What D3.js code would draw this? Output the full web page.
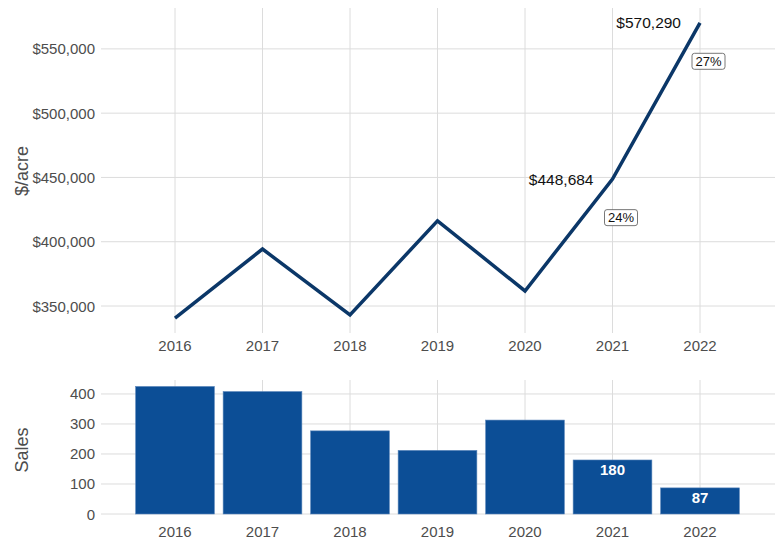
<!DOCTYPE html>
<html>
<head>
<meta charset="utf-8">
<script src="https://cdn.jsdelivr.net/npm/d3@7"></script>
<style>
  body { margin: 0; background: #fff; }
  svg { display: block; font-family: "Liberation Sans", Arial, sans-serif; }
  .grid line { stroke: #dcdcdc; stroke-width: 1; }
  .tick-label { fill: #4d4d4d; font-size: 15px; }
</style>
</head>
<body>
<svg id="chart" width="775" height="542"></svg>
<script>
var years = [2016, 2017, 2018, 2019, 2020, 2021, 2022];
var pricePerAcre = [340500, 394300, 343000, 416300, 361700, 448684, 570290];
var sales = [425, 408, 277, 212, 313, 180, 87];
var priceTicks = [350000, 400000, 450000, 500000, 550000];
var salesTicks = [0, 100, 200, 300, 400];
var labelledYears = [2021, 2022];
var barLabelYears = [2021, 2022];

var plotLeft = 101, plotRight = 775;

var svg = d3.select("#chart");
var fmtMoney = d3.format("$,.0f");

var xScale = d3.scaleLinear()
  .domain([2016, 2022])
  .range([175, 700]);

/* Top panel: price per acre */
var topPanel = { y0: 8, y1: 333 };
var yPrice = d3.scaleLinear()
  .domain([329000, 581800])
  .range([topPanel.y1, topPanel.y0]);

var gTop = svg.append("g");
var gridTop = gTop.append("g").attr("class", "grid");
gridTop.selectAll(".h").data(priceTicks).enter().append("line")
  .attr("x1", plotLeft).attr("x2", plotRight)
  .attr("y1", d => yPrice(d)).attr("y2", d => yPrice(d));
gridTop.selectAll(".v").data(years).enter().append("line")
  .attr("x1", d => xScale(d)).attr("x2", d => xScale(d))
  .attr("y1", topPanel.y0).attr("y2", topPanel.y1);

gTop.selectAll(".ylab").data(priceTicks).enter().append("text")
  .attr("class", "tick-label")
  .attr("x", 95).attr("y", d => yPrice(d))
  .attr("text-anchor", "end").attr("dominant-baseline", "central")
  .text(d => fmtMoney(d));
gTop.selectAll(".xlab").data(years).enter().append("text")
  .attr("class", "tick-label")
  .attr("x", d => xScale(d)).attr("y", 345)
  .attr("text-anchor", "middle").attr("dominant-baseline", "central")
  .text(d => d);

gTop.append("text")
  .attr("transform", "translate(22," + 171 + ") rotate(-90)")
  .attr("text-anchor", "middle").attr("dominant-baseline", "central")
  .style("font-size", "18px").style("fill", "#4d4d4d")
  .text("$/acre");

var priceData = years.map((y, i) => ({ year: y, price: pricePerAcre[i] }));
var line = d3.line()
  .x(d => xScale(d.year))
  .y(d => yPrice(d.price));
gTop.append("path")
  .datum(priceData)
  .attr("d", line)
  .attr("fill", "none")
  .attr("stroke", "#0b3768")
  .attr("stroke-width", 3.5)
  .attr("stroke-linejoin", "miter");

var labelled = priceData.filter(d => labelledYears.indexOf(d.year) >= 0);
gTop.selectAll(".vlab").data(labelled).enter().append("text")
  .attr("x", d => xScale(d.year) - 19)
  .attr("y", d => yPrice(d.price))
  .attr("text-anchor", "end").attr("dominant-baseline", "central")
  .style("font-size", "15.5px").style("fill", "#111")
  .text(d => fmtMoney(d.price));

/* percent change boxes */
var pctGroups = gTop.selectAll(".pct").data(labelled).enter().append("g")
  .attr("transform", d => "translate(" + (xScale(d.year) + 8.5) + "," + (yPrice(d.price) + 38.5) + ")");
pctGroups.append("rect")
  .attr("x", -16.5).attr("y", -8).attr("width", 33).attr("height", 16)
  .attr("rx", 2.5).attr("fill", "#fff")
  .attr("stroke", "#555").attr("stroke-width", 0.8);
pctGroups.append("text")
  .attr("text-anchor", "middle").attr("dominant-baseline", "central")
  .style("font-size", "13px").style("fill", "#111")
  .text(d => {
    var i = years.indexOf(d.year);
    return d3.format(".0%")(pricePerAcre[i] / pricePerAcre[i - 1] - 1);
  });

/* Bottom panel: sales */
var botPanel = { y0: 380, y1: 514 };
var ySales = d3.scaleLinear()
  .domain([0, 446.5])
  .range([botPanel.y1, botPanel.y0]);

var gBot = svg.append("g");
var gridBot = gBot.append("g").attr("class", "grid");
gridBot.selectAll(".h").data(salesTicks).enter().append("line")
  .attr("x1", plotLeft).attr("x2", plotRight)
  .attr("y1", d => ySales(d)).attr("y2", d => ySales(d));
gridBot.selectAll(".v").data(years).enter().append("line")
  .attr("x1", d => xScale(d)).attr("x2", d => xScale(d))
  .attr("y1", botPanel.y0).attr("y2", botPanel.y1);

var barW = (xScale(2017) - xScale(2016)) * 0.9;
var salesData = years.map((y, i) => ({ year: y, sales: sales[i] }));
gBot.selectAll(".bar").data(salesData).enter().append("rect")
  .attr("x", d => xScale(d.year) - barW / 2)
  .attr("y", d => ySales(d.sales))
  .attr("width", barW)
  .attr("height", d => ySales(0) - ySales(d.sales))
  .attr("fill", "#0c4e96")
  .attr("stroke", "#5b86bb").attr("stroke-width", 0.6);

gBot.selectAll(".blab").data(salesData.filter(d => barLabelYears.indexOf(d.year) >= 0)).enter().append("text")
  .attr("x", d => xScale(d.year))
  .attr("y", d => ySales(d.sales) + 10)
  .attr("text-anchor", "middle").attr("dominant-baseline", "central")
  .style("font-size", "15px").style("font-weight", "bold").style("fill", "#fff")
  .text(d => d.sales);

gBot.selectAll(".ylab").data(salesTicks).enter().append("text")
  .attr("class", "tick-label")
  .attr("x", 95).attr("y", d => ySales(d))
  .attr("text-anchor", "end").attr("dominant-baseline", "central")
  .text(d => d);
gBot.selectAll(".xlab").data(years).enter().append("text")
  .attr("class", "tick-label")
  .attr("x", d => xScale(d)).attr("y", 531)
  .attr("text-anchor", "middle").attr("dominant-baseline", "central")
  .text(d => d);

gBot.append("text")
  .attr("transform", "translate(22," + 450 + ") rotate(-90)")
  .attr("text-anchor", "middle").attr("dominant-baseline", "central")
  .style("font-size", "18px").style("fill", "#4d4d4d")
  .text("Sales");
</script>
</body>
</html>
